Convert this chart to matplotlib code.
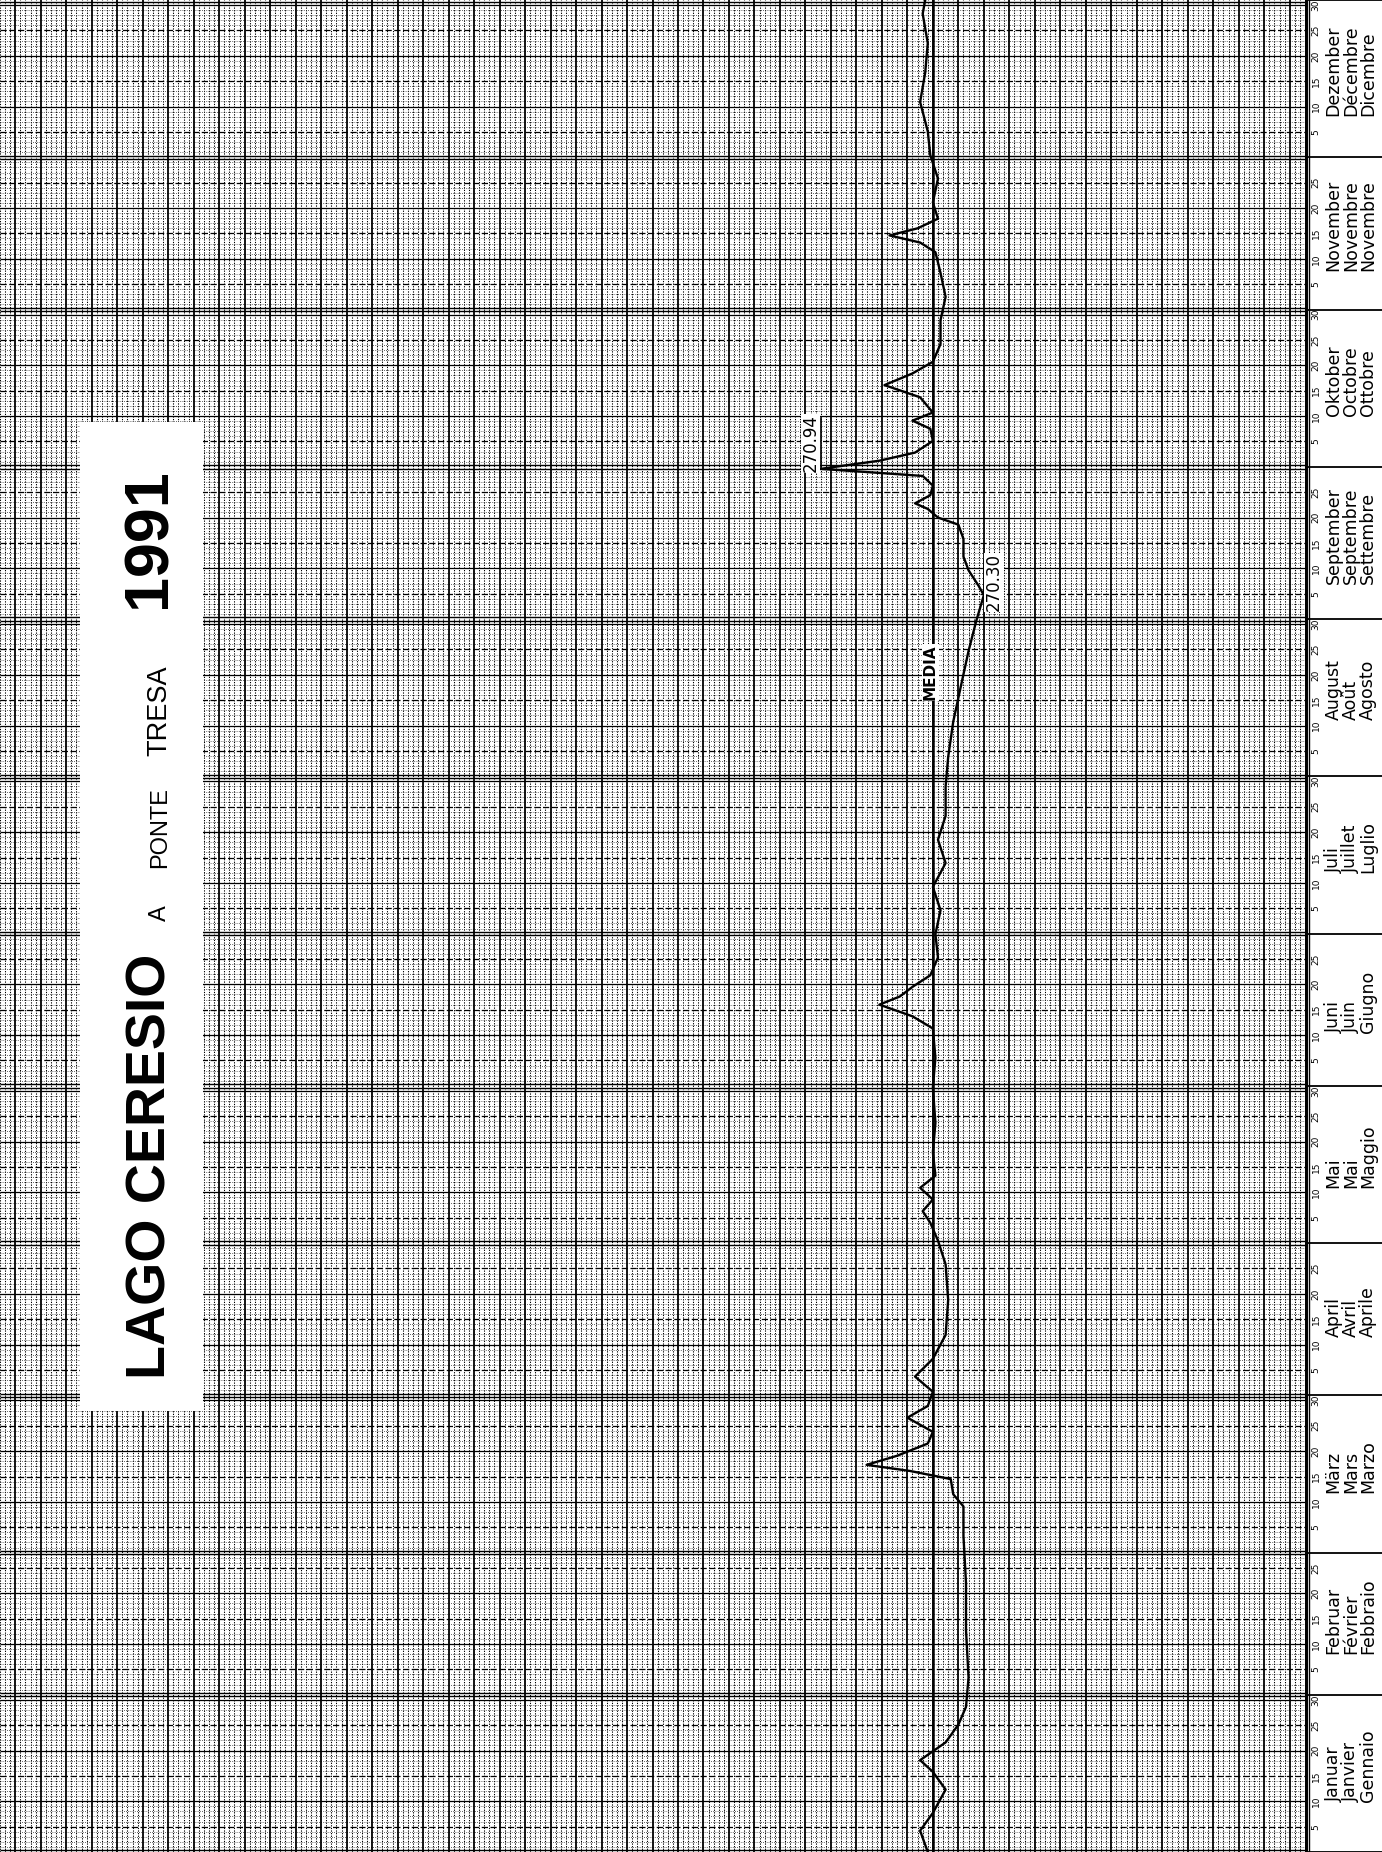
import matplotlib
matplotlib.use('Agg')
import matplotlib.pyplot as plt
import numpy as np
from matplotlib import font_manager
from matplotlib.patches import Rectangle

# month names in three languages (label column on the right)
month_de = ['Januar', 'Februar', 'März', 'April', 'Mai', 'Juni',
            'Juli', 'August', 'September', 'Oktober', 'November', 'Dezember']
month_fr = ['Janvier', 'Février', 'Mars', 'Avril', 'Mai', 'Juin',
            'Juillet', 'Août', 'Septembre', 'Octobre', 'Novembre', 'Décembre']
month_it = ['Gennaio', 'Febbraio', 'Marzo', 'Aprile', 'Maggio', 'Giugno',
            'Luglio', 'Agosto', 'Settembre', 'Ottobre', 'Novembre', 'Dicembre']
month_days = [31, 28, 31, 30, 31, 30, 31, 31, 30, 31, 30, 31]

# lake level (m a.s.l.), by day of year
days = [0, 4.2, 7.7, 12.3, 15.8, 18.1, 21.6, 25.1, 28.6,
        34.4, 43.7, 53.0, 62.3, 68.1, 70.5, 73.5, 75.1, 76.3,
        78.1, 80.5, 82.8, 85.6, 87.9, 90.7, 93.7, 97.2, 101.9, 108.8, 115.8,
        120.5, 124.0, 126.3, 128.6, 130.9, 133.3, 137.9, 143.7, 150.7,
        156.5, 162.3, 164.7, 167.0, 168.6, 170.5, 172.8, 176.3, 180.9,
        185.6, 190.2, 194.9, 199.5, 204.2, 210.0,
        215.8, 222.8, 229.8, 236.7, 242.6,
        246.0, 247.7, 249.5, 252.6, 255.3, 258.8, 261.6, 263.0, 264.7,
        265.8, 267.4, 269.3, 271.2, 272.6, 274.2, 275.8, 278.1, 280.5,
        282.1, 283.7, 286.7, 289.1, 291.4, 293.7, 297.2, 301.9,
        306.5, 311.2, 315.3, 317.2, 318.6, 320.0, 321.9, 325.1, 329.8,
        334.4, 339.1, 344.9, 350.7, 356.5, 362.3, 365.0]
levels = [270.52, 270.55, 270.50, 270.45, 270.50, 270.55, 270.45, 270.40, 270.37,
          270.36, 270.37, 270.37, 270.38, 270.38, 270.42, 270.43, 270.59, 270.76,
          270.64, 270.52, 270.50, 270.60, 270.52, 270.50, 270.57, 270.50, 270.45, 270.44, 270.45,
          270.48, 270.51, 270.54, 270.50, 270.55, 270.49, 270.50, 270.49, 270.50,
          270.49, 270.50, 270.58, 270.71, 270.63, 270.58, 270.51, 270.48, 270.49,
          270.47, 270.50, 270.45, 270.48, 270.45, 270.45,
          270.44, 270.42, 270.39, 270.36, 270.33,
          270.31, 270.30, 270.32, 270.36, 270.38, 270.38, 270.40, 270.48, 270.52,
          270.57, 270.51, 270.50, 270.54, 270.94, 270.71, 270.57, 270.50, 270.51,
          270.58, 270.50, 270.55, 270.69, 270.58, 270.50, 270.47, 270.47,
          270.45, 270.47, 270.49, 270.55, 270.67, 270.56, 270.48, 270.50, 270.48,
          270.51, 270.52, 270.55, 270.53, 270.52, 270.54, 270.53]

mean_level = 270.50
max_day, max_level = 272.6, 270.94
min_day, min_level = 247.7, 270.30


def pick_font(names):
    for n in names:
        try:
            font_manager.findfont(font_manager.FontProperties(family=n, weight='bold'),
                                  fallback_to_default=False)
            return n
        except ValueError:
            pass
    return 'DejaVu Sans'


W, H = 1382, 1852
grid_right = 1305
month_start = np.concatenate([[0], np.cumsum(month_days)])

fig = plt.figure(figsize=(W / 100, H / 100), dpi=100)
fig.patch.set_facecolor('white')

ax = fig.add_axes([0, 0, grid_right / W, 1])
ax.set_xlim(274.16, 269.04)
ax.set_ylim(0, 365)
ax.axis('off')

# fine dotted grid: 2 cm and 1 day
fine_x = [v for v in np.round(np.arange(269.06, 274.16, 0.02), 2) if round(v * 10, 6) % 1 != 0]
ax.vlines(fine_x, 0, 365, colors='black', lw=0.75, linestyles=(0, (1.2, 1.3)), zorder=1)
fine_y, dash_y, solid_y = [], [], []
for s, n in zip(month_start[:-1], month_days):
    for k in range(1, n):
        if k % 10 == 0:
            solid_y.append(s + k)
        elif k % 5 == 0:
            dash_y.append(s + k)
        else:
            fine_y.append(s + k)
ax.hlines(fine_y, 274.16, 269.04, colors='#333333', lw=0.6, linestyles=(0, (1.0, 1.6)), zorder=1)
ax.hlines(dash_y, 274.16, 269.04, colors='black', lw=0.9, linestyles=(0, (5, 2)), zorder=2)
ax.hlines(solid_y, 274.16, 269.04, colors='black', lw=0.9, zorder=2)
# double lines at month boundaries
ax.hlines(np.concatenate([month_start - 0.35, month_start + 0.35]), 274.16, 269.04,
          colors='black', lw=1.0, zorder=2)
# 10 cm lines
major_x = np.round(np.arange(269.1, 274.11, 0.1), 1)
ax.vlines(major_x, 0, 365, colors='black', lw=1.3, zorder=2)

# mean line and hydrograph
ax.axvline(mean_level, color='black', lw=1.8, zorder=3)
ax.plot(levels, days, color='black', lw=1.7, zorder=4)

# annotations
ax.plot([max_level, max_level], [max_day, max_day + 10], color='black', lw=1.2, zorder=4)
ax.text(max_level + 0.005, max_day + 5, f'{max_level:.2f}', rotation=90, ha='right', va='center',
        fontsize=12, family='DejaVu Sans', zorder=5,
        bbox=dict(facecolor='white', edgecolor='none', pad=0.5))
ax.plot([min_level, min_level], [min_day, min_day + 7], color='black', lw=1.2, zorder=4)
ax.text(min_level - 0.005, min_day + 2.5, f'{min_level:.2f}', rotation=90, ha='left', va='center',
        fontsize=12, family='DejaVu Sans', zorder=5,
        bbox=dict(facecolor='white', edgecolor='none', pad=0.5))
ax.text(mean_level + 0.01, 232.5, 'MEDIA', rotation=90, ha='center', va='center',
        fontsize=11, fontweight='bold', family='DejaVu Sans', zorder=5,
        bbox=dict(facecolor='white', edgecolor='none', pad=0.5))

# title panel
fig.add_artist(Rectangle((80 / W, 1 - 1411 / H), 123 / W, (1411 - 422) / H,
                         transform=fig.transFigure, facecolor='white', edgecolor='none', zorder=3))
tfont = pick_font(['Liberation Sans Narrow', 'Liberation Sans', 'DejaVu Sans'])
big = 48 if 'Narrow' in tfont else 40
base_x = 166 / W
fig.text(base_x, 1 - 1379 / H, 'LAGO CERESIO', rotation=90, rotation_mode='anchor',
         ha='left', va='baseline', fontsize=big, fontweight='bold', family=tfont, zorder=5)
fig.text(base_x, 1 - 921 / H, 'A', rotation=90, rotation_mode='anchor',
         ha='left', va='baseline', fontsize=17, family='Liberation Sans', zorder=5)
fig.text(base_x, 1 - 868 / H, 'PONTE', rotation=90, rotation_mode='anchor',
         ha='left', va='baseline', fontsize=17, family='Liberation Sans', zorder=5)
fig.text(base_x, 1 - 756 / H, 'TRESA', rotation=90, rotation_mode='anchor',
         ha='left', va='baseline', fontsize=19.5, family='Liberation Sans', zorder=5)
fig.text(base_x, 1 - 608 / H, '1991', rotation=90, rotation_mode='anchor',
         ha='left', va='baseline', fontsize=big * 1.13, fontweight='bold', family=tfont, zorder=5)

# month label column
ax2 = fig.add_axes([grid_right / W, 0, (W - grid_right) / W, 1])
ax2.set_xlim(0, W - grid_right)
ax2.set_ylim(0, 365)
ax2.axis('off')
ax2.axvline(0.8, color='black', lw=2.2)
ax2.axvline(4.0, color='black', lw=1.0)
ax2.hlines(month_start, 0, W - grid_right, colors='black', lw=1.3)
for i, (s, n) in enumerate(zip(month_start[:-1], month_days)):
    for k in range(5, 31, 5):
        if k < n:
            ax2.text(11, s + k, str(k), rotation=90, ha='center', va='center',
                     fontsize=6.5, family='DejaVu Sans')
    ax2.text(46, s + 0.55 * n, '\n'.join([month_de[i], month_fr[i], month_it[i]]),
             rotation=90, ha='center', va='center', multialignment='left',
             fontsize=12.5, linespacing=0.95, family='DejaVu Sans')

fig.savefig('out.png', dpi=100, facecolor='white')
